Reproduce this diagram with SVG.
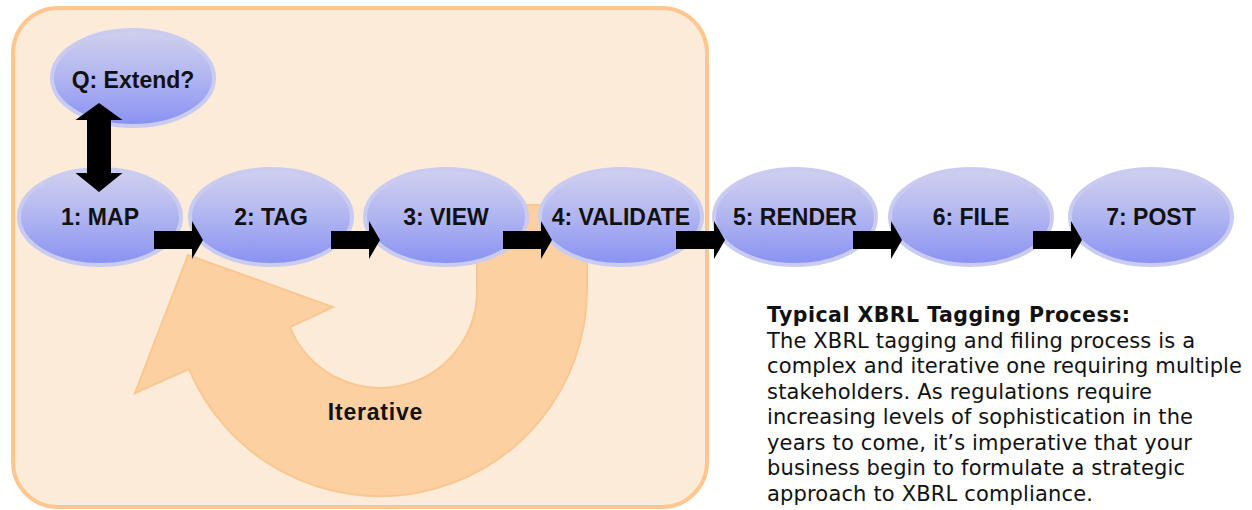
<svg xmlns="http://www.w3.org/2000/svg" width="1252" height="510" viewBox="0 0 1252 510">
  <style>
    .node-shape { fill: url(#nodeFill); stroke: #c9ccf0; stroke-width: 4; }
    .node-label { font-family: "Liberation Sans", Arial, sans-serif; font-weight: bold; font-size: 23px; fill: #111; text-anchor: middle; }
    .flow { fill: #000; }
    .cycle { fill: #fdd0a2; stroke: #fbc790; stroke-width: 2; }
    .note { font-family: "DejaVu Sans", Verdana, sans-serif; font-size: 21px; fill: #111; }
    .note-title { font-weight: bold; font-size: 20.5px; }
  </style>
  <defs>
    <linearGradient id="nodeFill" x1="0" y1="0" x2="0" y2="1">
      <stop offset="0" stop-color="#d0d0ee"/>
      <stop offset="0.45" stop-color="#b4b8f0"/>
      <stop offset="1" stop-color="#8891f3"/>
    </linearGradient>
    <!-- block arrow, tip at the origin pointing right -->
    <path id="blockArrow" d="M -49 -9 L -11 -9 L -11 -19 L 0 0 L -11 19 L -11 9 L -49 9 Z"/>
  </defs>

  <!-- iterative phase container -->
  <rect x="13" y="8" width="694" height="499" rx="45" ry="45" fill="#fdebd9" stroke="#ffc68f" stroke-width="4"/>

  <!-- looping "Iterative" arrow -->
  <g id="iterative-loop">
    <path class="cycle" d="M 477 205 L 477 290 A 97 97 0 0 1 290 327 L 333 307 L 188 255 L 135 393 L 189 369 A 207 207 0 0 0 587 290 L 587 205 Z"/>
    <text class="node-label" x="375.5" y="420" style="letter-spacing:0.8px">Iterative</text>
  </g>

  <!-- process steps -->
  <g id="node-extend">
    <ellipse class="node-shape" cx="133" cy="78" rx="81" ry="48"/>
    <text class="node-label" x="133" y="88">Q: Extend?</text>
  </g>
  <g id="node-map">
    <ellipse class="node-shape" cx="100" cy="217" rx="81" ry="48"/>
    <text class="node-label" x="100" y="225">1: MAP</text>
  </g>
  <g id="node-tag">
    <ellipse class="node-shape" cx="271" cy="217" rx="81" ry="48"/>
    <text class="node-label" x="271" y="225">2: TAG</text>
  </g>
  <g id="node-view">
    <ellipse class="node-shape" cx="446" cy="217" rx="81" ry="48"/>
    <text class="node-label" x="446" y="225">3: VIEW</text>
  </g>
  <g id="node-validate">
    <ellipse class="node-shape" cx="621" cy="217" rx="81" ry="48"/>
    <text class="node-label" x="621" y="225">4: VALIDATE</text>
  </g>
  <g id="node-render">
    <ellipse class="node-shape" cx="795" cy="217" rx="81" ry="48"/>
    <text class="node-label" x="795" y="225">5: RENDER</text>
  </g>
  <g id="node-file">
    <ellipse class="node-shape" cx="971" cy="217" rx="81" ry="48"/>
    <text class="node-label" x="971" y="225">6: FILE</text>
  </g>
  <g id="node-post">
    <ellipse class="node-shape" cx="1151" cy="217" rx="81" ry="48"/>
    <text class="node-label" x="1151" y="225">7: POST</text>
  </g>

  <!-- connectors -->
  <g id="connectors" class="flow">
    <path d="M 99 103 L 122.5 120 L 111 120 L 111 173 L 122.5 173 L 99 192 L 75.5 173 L 87 173 L 87 120 L 75.5 120 Z"/>
    <use href="#blockArrow" transform="translate(203 240)"/>
    <use href="#blockArrow" transform="translate(380 240)"/>
    <use href="#blockArrow" transform="translate(552 240)"/>
    <use href="#blockArrow" transform="translate(725 240)"/>
    <use href="#blockArrow" transform="translate(902 240)"/>
    <use href="#blockArrow" transform="translate(1082 240)"/>
  </g>

  <!-- description -->
  <g id="description" class="note">
    <text class="note-title" x="767" y="322" textLength="363" lengthAdjust="spacing">Typical XBRL Tagging Process:</text>
    <text x="767" y="348" textLength="428" lengthAdjust="spacing">The XBRL tagging and filing process is a</text>
    <text x="767" y="373" textLength="475" lengthAdjust="spacing">complex and iterative one requiring multiple</text>
    <text x="767" y="399" textLength="385" lengthAdjust="spacing">stakeholders. As regulations require</text>
    <text x="767" y="424" textLength="426" lengthAdjust="spacing">increasing levels of sophistication in the</text>
    <text x="767" y="450" textLength="425" lengthAdjust="spacing">years to come, it’s imperative that your</text>
    <text x="767" y="475" textLength="418" lengthAdjust="spacing">business begin to formulate a strategic</text>
    <text x="767" y="501" textLength="326" lengthAdjust="spacing">approach to XBRL compliance.</text>
  </g>
</svg>
